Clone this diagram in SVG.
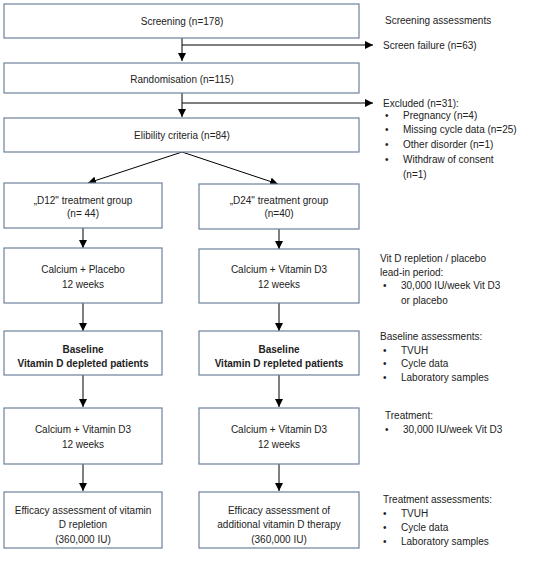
<svg xmlns="http://www.w3.org/2000/svg" width="550" height="562" viewBox="0 0 550 562">
<defs>
<marker id="ah" markerWidth="8" markerHeight="8" refX="8" refY="4" orient="auto" markerUnits="userSpaceOnUse">
<path d="M0,0 L8,4 L0,8 Z" fill="#000"/>
</marker>
<style>
.box{fill:#fff;stroke:#6d819c;stroke-width:1.2}
text{font-family:"Liberation Sans",Arial,sans-serif;font-size:10px;fill:#222}
.c{text-anchor:middle}
.b{font-weight:bold}
.ln{stroke:#000;stroke-width:1;fill:none;marker-end:url(#ah)}
</style>
</defs>
<rect width="550" height="562" fill="#fff"/>
<g id="connectors">
<line class="ln" x1="182" y1="38" x2="182" y2="61"/>
<line class="ln" x1="182" y1="45" x2="373" y2="45"/>
<line class="ln" x1="182" y1="93" x2="182" y2="117"/>
<line class="ln" x1="182" y1="103" x2="373" y2="103"/>
<line class="ln" x1="182" y1="152" x2="88" y2="183"/>
<line class="ln" x1="182" y1="152" x2="278" y2="184"/>
<line class="ln" x1="83" y1="228" x2="83" y2="248"/>
<line class="ln" x1="279" y1="229" x2="279" y2="249"/>
<line class="ln" x1="83" y1="303" x2="83" y2="331"/>
<line class="ln" x1="279" y1="303" x2="279" y2="331"/>
<line class="ln" x1="83" y1="375" x2="83" y2="407"/>
<line class="ln" x1="279" y1="375" x2="279" y2="407"/>
<line class="ln" x1="83" y1="464" x2="83" y2="491"/>
<line class="ln" x1="279" y1="464" x2="279" y2="491"/>
</g>
<g id="screening"><rect class="box" x="4" y="4" width="355" height="34"/><text class="c" x="182" y="25">Screening (n=178)</text></g>
<g id="randomisation"><rect class="box" x="4" y="63" width="355" height="30"/><text class="c" x="182" y="83">Randomisation (n=115)</text></g>
<g id="eligibility"><rect class="box" x="4" y="118" width="355" height="34"/><text class="c" x="182" y="139">Elibility criteria  (n=84)</text></g>
<g id="d12"><rect class="box" x="4" y="183" width="158" height="45"/><text class="c" x="83" y="204">„D12" treatment group</text><text class="c" x="83" y="217">(n= 44)</text></g>
<g id="d24"><rect class="box" x="199" y="184" width="160" height="45"/><text class="c" x="279" y="204">„D24" treatment group</text><text class="c" x="279" y="217">(n=40)</text></g>
<g id="placebo"><rect class="box" x="4" y="248" width="158" height="55"/><text class="c" x="83" y="273">Calcium + Placebo</text><text class="c" x="83" y="288">12 weeks</text></g>
<g id="vitd-leadin"><rect class="box" x="199" y="249" width="160" height="54"/><text class="c" x="279" y="273">Calcium + Vitamin D3</text><text class="c" x="279" y="288">12 weeks</text></g>
<g id="baseline-depleted"><rect class="box" x="4" y="331" width="158" height="44"/><text class="c b" x="83" y="353">Baseline</text><text class="c b" x="83" y="367">Vitamin D depleted patients</text></g>
<g id="baseline-repleted"><rect class="box" x="199" y="331" width="160" height="44"/><text class="c b" x="279" y="353">Baseline</text><text class="c b" x="279" y="367">Vitamin D repleted patients</text></g>
<g id="treat-left"><rect class="box" x="4" y="408" width="158" height="56"/><text class="c" x="83" y="433">Calcium + Vitamin D3</text><text class="c" x="83" y="448">12 weeks</text></g>
<g id="treat-right"><rect class="box" x="199" y="408" width="160" height="56"/><text class="c" x="279" y="433">Calcium + Vitamin D3</text><text class="c" x="279" y="448">12 weeks</text></g>
<g id="efficacy-left"><rect class="box" x="4" y="492" width="158" height="56"/><text class="c" x="83" y="514">Efficacy assessment of vitamin</text><text class="c" x="83" y="528">D repletion</text><text class="c" x="83" y="543">(360,000 IU)</text></g>
<g id="efficacy-right"><rect class="box" x="199" y="492" width="160" height="56"/><text class="c" x="279" y="514">Efficacy assessment of</text><text class="c" x="279" y="528">additional vitamin D therapy</text><text class="c" x="279" y="543">(360,000 IU)</text></g>
<g id="side-notes">
<text x="385" y="24">Screening assessments</text>
<text x="383" y="49">Screen failure (n=63)</text>
<text x="383" y="107">Excluded (n=31):</text>
<text x="385" y="119">•</text><text x="403" y="119">Pregnancy (n=4)</text>
<text x="385" y="133">•</text><text x="403" y="133">Missing cycle data (n=25)</text>
<text x="385" y="148">•</text><text x="403" y="148">Other disorder (n=1)</text>
<text x="385" y="163">•</text><text x="403" y="163">Withdraw of consent</text>
<text x="403" y="178">(n=1)</text>
<text x="380" y="262">Vit D repletion / placebo</text>
<text x="380" y="276">lead-in period:</text>
<text x="383" y="289">•</text><text x="401" y="289">30,000 IU/week Vit D3</text>
<text x="401" y="304">or placebo</text>
<text x="380" y="340">Baseline assessments:</text>
<text x="383" y="354">•</text><text x="401" y="354">TVUH</text>
<text x="383" y="367">•</text><text x="401" y="367">Cycle data</text>
<text x="383" y="381">•</text><text x="401" y="381">Laboratory samples</text>
<text x="385" y="419">Treatment:</text>
<text x="385" y="433">•</text><text x="403" y="433">30,000 IU/week Vit D3</text>
<text x="383" y="503">Treatment assessments:</text>
<text x="383" y="517">•</text><text x="401" y="517">TVUH</text>
<text x="383" y="531">•</text><text x="401" y="531">Cycle data</text>
<text x="383" y="545">•</text><text x="401" y="545">Laboratory samples</text>
</g>
</svg>
